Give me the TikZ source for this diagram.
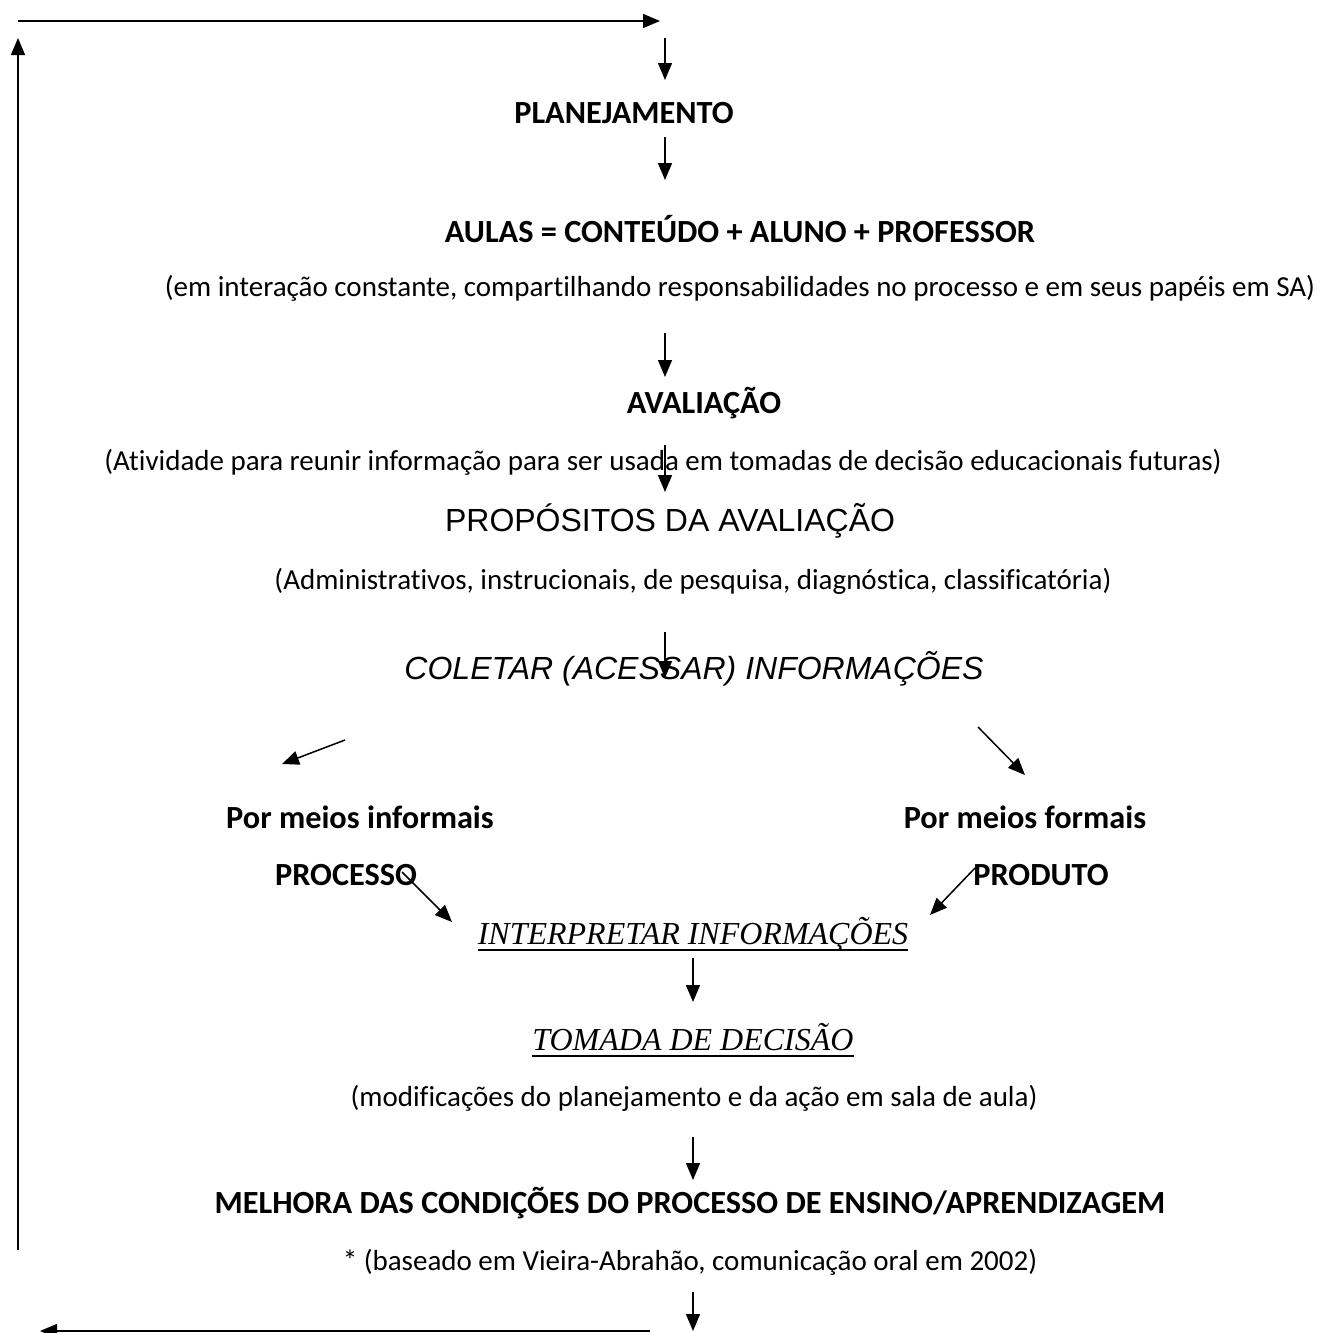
\documentclass[tikz,border=0pt]{standalone}
\usepackage{fontspec}
\setmainfont[Ligatures={NoCommon}]{Carlito}
\newfontfamily\arialf{Liberation Sans}
\newfontfamily\timesf{Liberation Serif}
\usetikzlibrary{arrows.meta}
\begin{document}
\begin{tikzpicture}[x=1pt,y=-1pt,
  conn/.style={line width=1.5pt,-{Triangle[length=17pt,width=14pt]}},
  boldtxt/.style={font=\fontsize{32.3}{38}\selectfont\bfseries,anchor=base,inner sep=0pt},
  regtxt/.style={font=\fontsize{29}{34}\selectfont,anchor=base,inner sep=0pt},
  arialtxt/.style={font=\fontsize{32}{38}\selectfont\arialf,anchor=base,inner sep=0pt},
  arialit/.style={font=\fontsize{32}{38}\selectfont\arialf\itshape,anchor=base,inner sep=0pt},
  timesit/.style={font=\fontsize{32}{38}\selectfont\timesf\itshape,anchor=base,inner sep=0pt},
  uline/.style={line width=1.5pt}]
\fill[white] (0,0) rectangle (1328,1333);
\useasboundingbox (0,0) rectangle (1328,1333);

% text nodes
\node[boldtxt] (plan) at (624,123) {PLANEJAMENTO};
\node[boldtxt] (aulas) at (740,242) {AULAS = CONTEÚDO + ALUNO + PROFESSOR};
\node[regtxt] (inter) at (740,296) {(em interação constante, compartilhando responsabilidades no processo e em seus papéis em SA)};
\node[boldtxt] (aval) at (704,413) {AVALIAÇÃO};
\node[regtxt] (ativ) at (663,470) {(Atividade para reunir informação para ser usada em tomadas de decisão educacionais futuras)};
\node[arialtxt] (prop) at (670,531) {PROPÓSITOS DA AVALIAÇÃO};
\node[regtxt] (adm) at (693,589) {(Administrativos, instrucionais, de pesquisa, diagnóstica, classificatória)};
\node[arialit] (colet) at (694,679) {COLETAR (ACESSAR) INFORMAÇÕES};
\node[boldtxt] (inf) at (360,828) {Por meios informais};
\node[boldtxt] (form) at (1025,828) {Por meios formais};
\node[boldtxt] (proc) at (346,885) {PROCESSO};
\node[boldtxt] (prod) at (1041,885) {PRODUTO};
\node[timesit] (interp) at (693,944) {INTERPRETAR INFORMAÇÕES};
\node[timesit] (toma) at (693,1050) {TOMADA DE DECISÃO};
\node[regtxt] (modif) at (694,1106) {(modificações do planejamento e da ação em sala de aula)};
\node[boldtxt] (melh) at (690,1213) {MELHORA DAS CONDIÇÕES DO PROCESSO DE ENSINO/APRENDIZAGEM};
\node[regtxt] (base) at (690,1270) {* (baseado em Vieira-Abrahão, comunicação oral em 2002)};

% underlines
\draw[uline] ([yshift=-6pt]interp.base west) -- ([yshift=-6pt]interp.base east);
\draw[uline] ([yshift=-6pt]toma.base west) -- ([yshift=-6pt]toma.base east);

% connector end points
\coordinate (tl) at (18,21);
\coordinate (tr) at (660,21);
\coordinate (lb) at (18,1250);
\coordinate (lt) at (18,38);
\coordinate (a1s) at (665,38);  \coordinate (a1e) at (665,80);
\coordinate (a2s) at (665,137); \coordinate (a2e) at (665,180);
\coordinate (a3s) at (665,333); \coordinate (a3e) at (665,377);
\coordinate (a4s) at (665,445); \coordinate (a4e) at (665,492);
\coordinate (a5s) at (665,632); \coordinate (a5e) at (665,678);
\coordinate (dls) at (345,740); \coordinate (dle) at (282,764);
\coordinate (drs) at (978,727); \coordinate (dre) at (1025,775);
\coordinate (pcs) at (402,872); \coordinate (pce) at (452,922);
\coordinate (pds) at (975,868); \coordinate (pde) at (930,915);
\coordinate (a6s) at (693,958); \coordinate (a6e) at (693,1002);
\coordinate (a7s) at (693,1137); \coordinate (a7e) at (693,1180);
\coordinate (a8s) at (693,1292); \coordinate (a8e) at (693,1331);
\coordinate (bs) at (650,1331);  \coordinate (be) at (40,1331);

% connectors
\draw[conn] (tl) -- (tr);
\draw[conn] (lb) -- (lt);
\draw[conn] (a1s) -- (a1e);
\draw[conn] (a2s) -- (a2e);
\draw[conn] (a3s) -- (a3e);
\draw[conn] (a4s) -- (a4e);
\draw[conn] (a5s) -- (a5e);
\draw[conn] (dls) -- (dle);
\draw[conn] (drs) -- (dre);
\draw[conn] (pcs) -- (pce);
\draw[conn] (pds) -- (pde);
\draw[conn] (a6s) -- (a6e);
\draw[conn] (a7s) -- (a7e);
\draw[conn] (a8s) -- (a8e);
\draw[conn] (bs) -- (be);
\end{tikzpicture}
\end{document}
